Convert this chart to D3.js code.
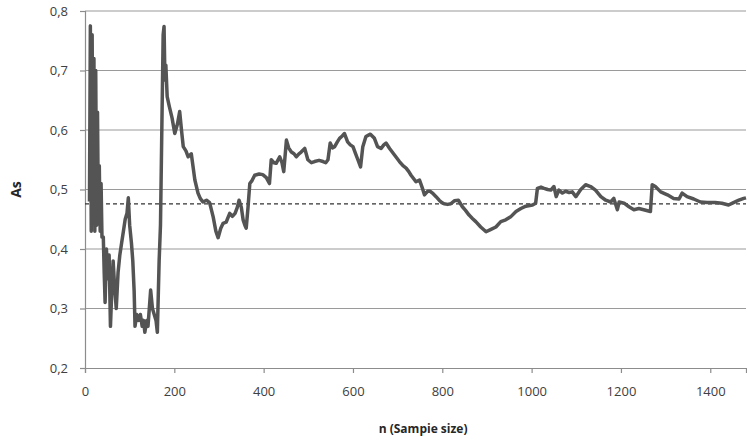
<!DOCTYPE html>
<html>
<head>
<meta charset="utf-8">
<script src="https://cdn.jsdelivr.net/npm/d3@7"></script>
<style>
  body { margin: 0; background: #fff; }
  text { font-family: "Open Sans", "Noto Sans", sans-serif; }
  .tick text { fill: #404040; font-size: 13px; }
  .axis-title { font-weight: bold; fill: #262626; }
</style>
</head>
<body>
<div id="chart"></div>
<script>
// sample size n and As estimate
var sampleSize = [
  10, 12, 14, 16, 18, 20, 22, 24, 26, 28, 30, 32, 34, 36, 38, 41, 43, 45, 48, 51,
  54, 57, 60, 63, 66, 70, 74, 78, 82, 86, 90, 94, 97, 100, 104, 107, 110, 112, 116, 120,
  124, 128, 131, 134, 138, 141, 144, 147, 151, 155, 159, 162, 166, 169, 172, 175, 177, 179, 181, 184,
  189, 195, 201, 207, 212, 216, 220, 226, 231, 238, 246, 253, 258, 264, 272, 279, 287, 293, 298, 304,
  309, 316, 324, 330, 336, 341, 345, 350, 354, 358, 361, 365, 369, 374, 380, 390, 398, 406, 413, 417,
  423, 428, 436, 441, 445, 451, 456, 462, 468, 473, 479, 484, 492, 499, 507, 514, 524, 533, 539, 544,
  549, 554, 559, 565, 570, 576, 581, 588, 594, 600, 606, 611, 617, 622, 629, 639, 648, 655, 663, 669,
  674, 682, 693, 704, 712, 719, 725, 730, 736, 741, 749, 756, 760, 767, 773, 778, 786, 793, 799, 804,
  812, 819, 827, 836, 845, 852, 860, 868, 875, 886, 898, 909, 920, 931, 942, 953, 965, 976, 987, 1002,
  1009, 1013, 1021, 1028, 1036, 1043, 1050, 1055, 1061, 1069, 1076, 1084, 1091, 1099, 1110, 1121, 1132, 1143, 1155, 1166,
  1177, 1184, 1192, 1196, 1207, 1218, 1229, 1240, 1251, 1266, 1270, 1277, 1289, 1304, 1318, 1330, 1337, 1348, 1363, 1378,
  1393, 1411, 1426, 1441, 1452, 1464, 1475, 1480
];
var asValues = [
  0.48, 0.775, 0.43, 0.76, 0.45, 0.72, 0.43, 0.70, 0.44, 0.63, 0.45, 0.54, 0.43, 0.51, 0.42, 0.42, 0.36, 0.31, 0.40, 0.35,
  0.39, 0.27, 0.33, 0.38, 0.34, 0.30, 0.36, 0.39, 0.41, 0.43, 0.45, 0.46, 0.486, 0.44, 0.41, 0.38, 0.33, 0.27, 0.29, 0.28,
  0.29, 0.27, 0.28, 0.26, 0.28, 0.27, 0.30, 0.331, 0.30, 0.29, 0.28, 0.26, 0.38, 0.44, 0.60, 0.76, 0.774, 0.684, 0.709, 0.656,
  0.639, 0.62, 0.594, 0.61, 0.631, 0.60, 0.572, 0.565, 0.555, 0.56, 0.516, 0.494, 0.485, 0.479, 0.482, 0.478, 0.454, 0.43, 0.419, 0.435,
  0.443, 0.445, 0.46, 0.455, 0.46, 0.47, 0.482, 0.47, 0.449, 0.44, 0.435, 0.47, 0.51, 0.515, 0.524, 0.526, 0.525, 0.52, 0.510, 0.55,
  0.545, 0.544, 0.555, 0.545, 0.530, 0.583, 0.57, 0.563, 0.56, 0.555, 0.56, 0.563, 0.569, 0.550, 0.545, 0.547, 0.549, 0.547, 0.545, 0.55,
  0.578, 0.57, 0.572, 0.58, 0.586, 0.59, 0.594, 0.580, 0.575, 0.572, 0.56, 0.55, 0.538, 0.572, 0.589, 0.593, 0.586, 0.572, 0.569, 0.575,
  0.578, 0.569, 0.558, 0.547, 0.54, 0.536, 0.53, 0.524, 0.518, 0.513, 0.516, 0.501, 0.491, 0.497, 0.497, 0.494, 0.488, 0.482, 0.478, 0.476,
  0.475, 0.476, 0.481, 0.482, 0.471, 0.465, 0.457, 0.451, 0.446, 0.437, 0.429, 0.433, 0.437, 0.446, 0.449, 0.454, 0.463, 0.468, 0.472, 0.474,
  0.477, 0.502, 0.504, 0.502, 0.50, 0.499, 0.505, 0.488, 0.499, 0.494, 0.497, 0.495, 0.496, 0.488, 0.500, 0.508, 0.505, 0.499, 0.488, 0.482,
  0.479, 0.485, 0.466, 0.479, 0.477, 0.471, 0.466, 0.468, 0.466, 0.463, 0.508, 0.505, 0.496, 0.491, 0.485, 0.484, 0.494, 0.488, 0.484, 0.479,
  0.478, 0.478, 0.477, 0.474, 0.478, 0.482, 0.485, 0.486
];
var meanAs = 0.476;

var xTicks = [0, 200, 400, 600, 800, 1000, 1200, 1400];
var yTicks = [0.2, 0.3, 0.4, 0.5, 0.6, 0.7, 0.8];

var data = sampleSize.map(function (n, i) { return { n: n, v: asValues[i] }; });

// SVG area dimensions
var svgWidth = 747;
var svgHeight = 440;

var margin = { top: 11, right: 1, bottom: 72, left: 85 };
var width = svgWidth - margin.left - margin.right;
var height = svgHeight - margin.top - margin.bottom;

var svg = d3.select('#chart')
  .append('svg')
  .attr('width', svgWidth)
  .attr('height', svgHeight);

var chartGroup = svg.append('g')
  .attr('transform', `translate(${margin.left}, ${margin.top})`);

var xScale = d3.scaleLinear().domain([0, 1480]).range([0, width]);
var yScale = d3.scaleLinear().domain([0.2, 0.8]).range([height, 0]);

var fmt = function (d) { return d3.format('.1f')(d).replace('.', ','); };

// horizontal gridlines
chartGroup.append('g')
  .selectAll('line')
  .data(yTicks.filter(function (d) { return d > 0.2; }))
  .enter()
  .append('line')
  .attr('x1', 0)
  .attr('x2', width)
  .attr('y1', function (d) { return yScale(d); })
  .attr('y2', function (d) { return yScale(d); })
  .attr('stroke', '#9a9a9a')
  .attr('stroke-width', 1.2);

// y axis
var yAxis = chartGroup.append('g')
  .call(d3.axisLeft(yScale).tickValues(yTicks).tickFormat(fmt).tickSize(5).tickPadding(12));

// x axis
var xAxis = chartGroup.append('g')
  .attr('transform', `translate(0, ${height})`)
  .call(d3.axisBottom(xScale).tickValues(xTicks).tickFormat(d3.format('d')).tickSize(5).tickPadding(14));

[xAxis, yAxis].forEach(function (ax) {
  ax.select('.domain').attr('stroke', '#8c8c8c').attr('stroke-width', 1.2);
  ax.selectAll('.tick line').attr('stroke', '#8c8c8c').attr('stroke-width', 1.2);
  ax.selectAll('.tick text').style('font-size', '13px');
});

// mean (dashed)
chartGroup.append('line')
  .attr('x1', 0)
  .attr('x2', width)
  .attr('y1', yScale(meanAs))
  .attr('y2', yScale(meanAs))
  .attr('stroke', '#333')
  .attr('stroke-width', 1.3)
  .attr('stroke-dasharray', '4,3');

// As line
var line = d3.line()
  .x(function (d) { return xScale(d.n); })
  .y(function (d) { return yScale(d.v); });

chartGroup.append('path')
  .datum(data)
  .attr('d', line)
  .attr('fill', 'none')
  .attr('stroke', '#545454')
  .attr('stroke-width', 3.5)
  .attr('stroke-linejoin', 'round');

// axis titles
chartGroup.append('text')
  .attr('class', 'axis-title')
  .attr('x', xScale(757))
  .attr('y', height + 65)
  .attr('text-anchor', 'middle')
  .style('font-size', '12px')
  .text('n (Sampie size)');

chartGroup.append('text')
  .attr('class', 'axis-title')
  .attr('transform', 'rotate(-90)')
  .attr('x', -(yScale(0.5) - 0))
  .attr('y', -margin.left + 21)
  .attr('text-anchor', 'middle')
  .style('font-size', '14px')
  .text('As');
</script>
</body>
</html>
